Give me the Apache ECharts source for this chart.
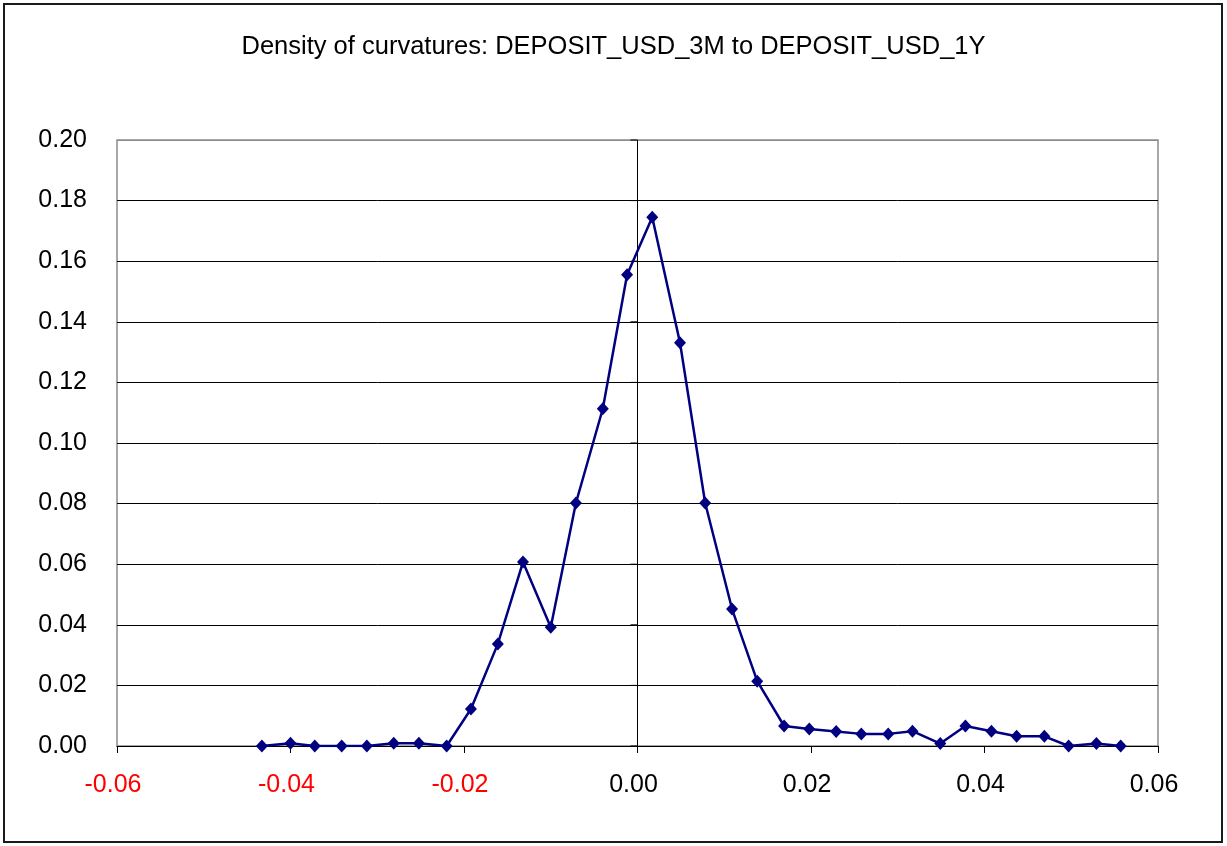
<!DOCTYPE html>
<html>
<head>
<meta charset="utf-8">
<script src="https://cdn.jsdelivr.net/npm/echarts@6/dist/echarts.min.js"></script>
<style>
  html, body { margin: 0; padding: 0; background: #fff; }
  #chart { width: 1227px; height: 846px; }
</style>
</head>
<body>
<div id="chart"></div>
<script>
// Curvature bins (x) and their estimated density (y)
const curvature = [
  -0.0433, -0.0400, -0.0372, -0.0341, -0.0312, -0.0281, -0.0252, -0.0220,
  -0.0192, -0.0161, -0.0132, -0.0100, -0.0071, -0.0040, -0.0012, 0.0017,
  0.0049, 0.0078, 0.0109, 0.0138, 0.0169, 0.0198, 0.0229, 0.0258,
  0.0289, 0.0317, 0.0349, 0.0378, 0.0408, 0.0437, 0.0469, 0.0497,
  0.0529, 0.0557
];
const density = [
  0.0000, 0.0009, 0.0000, 0.0000, 0.0000, 0.0009, 0.0009, 0.0000,
  0.0122, 0.0337, 0.0607, 0.0392, 0.0802, 0.1113, 0.1555, 0.1745,
  0.1331, 0.0802, 0.0452, 0.0214, 0.0066, 0.0056, 0.0048, 0.0040,
  0.0040, 0.0049, 0.0008, 0.0066, 0.0049, 0.0032, 0.0032, 0.0000,
  0.0008, 0.0000
];
// Tick values of the density axis (also used for the ticks on the x = 0 axis)
const yTicks = [0, 0.02, 0.04, 0.06, 0.08, 0.10, 0.12, 0.14, 0.16, 0.18, 0.20];
const titleText = 'Density of curvatures: DEPOSIT_USD_3M to DEPOSIT_USD_1Y';
const xRange = { min: -0.06, max: 0.06, step: 0.02 };

const points = curvature.map((x, i) => [x, density[i]]);
const font = 'Liberation Sans, Arial, sans-serif';

// horizontal grid lines: black inside, grey where it meets the plot border on top
const splitColors = yTicks.map((v, i) => (i === yTicks.length - 1 ? '#8c8c8c' : '#000000'));

const chart = echarts.init(document.getElementById('chart'), null, { renderer: 'canvas' });
chart.setOption({
  animation: false,
  backgroundColor: '#ffffff',
  title: {
    text: titleText,
    left: 'center',
    top: 29,
    textStyle: { fontFamily: font, fontSize: 25.5, fontWeight: 'normal', color: '#000' }
  },
  graphic: [{
    type: 'rect',
    shape: { x: 4, y: 4, width: 1218, height: 838 },
    style: { fill: 'none', stroke: '#1a1a1a', lineWidth: 2 },
    silent: true,
    z: 100
  }],
  grid: {
    left: 117, right: 69, top: 140, bottom: 100,
    show: true, borderColor: '#8c8c8c', borderWidth: 1.5, backgroundColor: '#fff'
  },
  xAxis: {
    type: 'value',
    min: xRange.min, max: xRange.max, interval: xRange.step,
    axisLine: { show: true, onZero: false, lineStyle: { color: '#000', width: 1 } },
    axisTick: { show: true, length: 7, lineStyle: { color: '#000' } },
    splitLine: { show: false },
    axisLabel: {
      margin: 27,
      fontFamily: font, fontSize: 25,
      align: 'center',
      padding: [0, 8, 0, 0],
      formatter: v => v.toFixed(2),
      color: v => (v < -1e-9 ? '#ff0000' : '#000000')
    }
  },
  yAxis: {
    type: 'value',
    min: yTicks[0], max: yTicks[yTicks.length - 1], interval: yTicks[1] - yTicks[0],
    axisLine: { show: false, onZero: false },
    axisTick: { show: false },
    splitLine: { show: true, lineStyle: { color: splitColors, width: 1 } },
    axisLabel: {
      margin: 30,
      fontFamily: font, fontSize: 25, color: '#000',
      formatter: v => v.toFixed(2)
    }
  },
  series: [{
    // vertical axis crossing at x = 0, with its tick marks
    type: 'custom',
    data: yTicks,
    silent: true,
    z: 3,
    renderItem: function (params, api) {
      const v = api.value(0);
      const p = api.coord([0, v]);
      const children = [{
        type: 'line',
        shape: { x1: p[0] - 7, y1: p[1], x2: p[0], y2: p[1] },
        style: { stroke: '#000', lineWidth: 1 }
      }];
      if (params.dataIndex === 0) {
        const top = api.coord([0, yTicks[yTicks.length - 1]]);
        children.push({
          type: 'line',
          shape: { x1: p[0], y1: p[1], x2: top[0], y2: top[1] },
          style: { stroke: '#000', lineWidth: 1 }
        });
      }
      return { type: 'group', children: children };
    },
    encode: { y: 0 }
  }, {
    type: 'line',
    data: points,
    symbol: 'diamond',
    symbolSize: [12, 13],
    lineStyle: { color: '#000080', width: 2.5 },
    itemStyle: { color: '#000080' },
    z: 5
  }]
});
</script>
</body>
</html>
